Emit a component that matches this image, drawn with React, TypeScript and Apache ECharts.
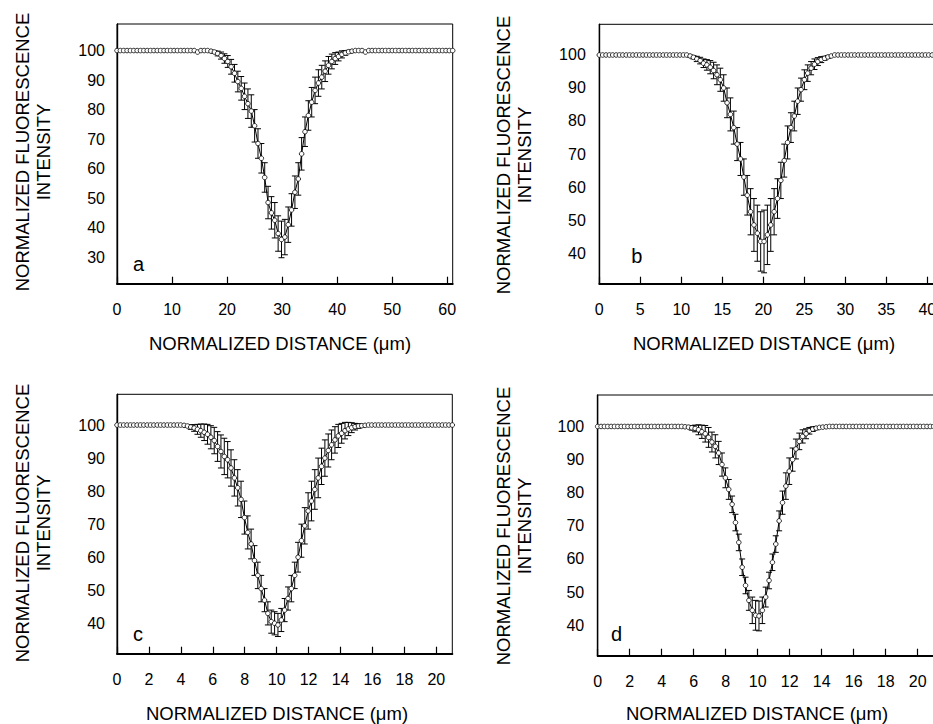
import React, { useEffect, useRef } from "react";
import * as echarts from "echarts";

// ---------- DATA ----------
// Sampling step of each profile along the normalized distance (μm)
const X_STEP_A = 0.61;
const X_STEP_B = 0.41;
const X_STEP_C = 0.21;
const X_STEP_D = 0.21;

// Mean normalized fluorescence intensity per sample
const Y_A = [
  100, 100, 100, 100, 100, 100, 100, 100, 100, 100,
  100, 100, 100, 100, 100, 100, 100, 100, 100, 100,
  100, 100, 100, 100, 99.5, 100, 100, 100, 99.8, 99.5,
  99, 98.3, 97.3, 96.3, 94.5, 92.3, 89.5, 87.2, 84.5, 82,
  79.5, 74.5, 68.5, 63.5, 57, 48.5, 45, 42.5, 38, 36,
  36.8, 41, 46, 52, 56.5, 65, 72.5, 78, 82.5, 86.5,
  89, 91, 93, 95, 96.3, 97.3, 98, 98.7, 99.2, 99.6,
  99.8, 100, 100, 100, 99.5, 100, 100, 100, 100, 100,
  100, 100, 100, 100, 100, 100, 100, 100, 100, 100,
  100, 100, 100, 100, 100, 100, 100, 100, 100, 100,
  100,
];
const Y_B = [
  100, 100, 100, 100, 100, 100, 100, 100, 100, 100,
  100, 100, 100, 100, 100, 100, 100, 100, 100, 100,
  100, 100, 100, 100, 100, 100, 100, 99.7, 99.3, 98.8,
  98.3, 97.5, 97, 96.3, 95.3, 94, 92.5, 90, 85.5, 82,
  78, 73, 68.5, 63, 57.5, 52.5, 48.5, 46, 43.5, 43.5,
  45.5, 48.5, 52.5, 56.5, 62, 68, 73.5, 78, 81.5, 86,
  89.5, 92.5, 94.5, 96, 97.2, 98, 98.6, 99, 99.4, 99.7,
  100, 100, 100, 100, 100, 100, 100, 100, 100, 100,
  100, 100, 100, 100, 100, 100, 100, 100, 100, 100,
  100, 100, 100, 100, 100, 100, 100, 100, 100, 100,
  100,
];
const Y_C = [
  100, 100, 100, 100, 100, 100, 100, 100, 100, 100,
  100, 100, 100, 100, 100, 100, 100, 100, 100, 100,
  99.9, 99.7, 99.4, 99.1, 98.7, 98.3, 97.8, 97.2, 96.3, 95.3,
  93.5, 92, 90.5, 89.5, 87, 84, 81, 77.5, 72, 67.5,
  64, 59, 54.5, 50.5, 47, 43, 40.5, 40, 39.5, 41,
  44, 47.5, 50.5, 54.5, 60, 65, 69.5, 74, 77, 80.5,
  84, 87.5, 90, 92.3, 94, 95.5, 96.7, 97.5, 98.3, 98.8,
  99.2, 99.5, 99.7, 99.8, 99.9, 100, 100, 100, 100, 100,
  100, 100, 100, 100, 100, 100, 100, 100, 100, 100,
  100, 100, 100, 100, 100, 100, 100, 100, 100, 100,
  100,
];
const Y_D = [
  100, 100, 100, 100, 100, 100, 100, 100, 100, 100,
  100, 100, 100, 100, 100, 100, 100, 100, 100, 100,
  100, 100, 100, 100, 100, 100, 99.9, 99.8, 99.6, 99.4,
  99, 98.4, 97.8, 96.7, 95.3, 94, 92, 88.5, 84.5, 81,
  76.5, 71, 65, 57.5, 52, 47.5, 44.5, 43, 42.8, 44.5,
  48.5, 53.5, 59, 64.5, 71.5, 77, 82, 86.5, 90, 93.2,
  95.5, 97, 97.8, 98.7, 99.2, 99.5, 99.7, 99.8, 99.9, 100,
  100, 100, 100, 100, 100, 100, 100, 100, 100, 100,
  100, 100, 100, 100, 100, 100, 100, 100, 100, 100,
  100, 100, 100, 100, 100, 100, 100, 100, 100, 100,
  100,
];

// Error bar half-lengths (±), starting at the given sample index
const ERR_A_START = 28;
const ERR_A = [
  0.3, 0.5, 0.8, 1.2, 1.6, 2, 2.5, 3, 3.5, 4, 4.5, 5, 5.5, 5.5, 5, 5, 5, 5.5, 5.5, 6,
  6, 6.2, 6, 6, 5.5, 5.5, 5.5, 5.5, 5, 5, 5, 4.5, 4.5, 4, 3.5, 3, 2.5, 2, 1.5, 1.2,
  0.8, 0.5, 0.3,
];
const ERR_B_START = 27;
const ERR_B = [
  0.3, 0.5, 0.8, 1, 1.3, 1.6, 2, 2.5, 3, 3.5, 4, 4.5, 5, 5, 5, 5, 5.5, 6, 7, 8,
  8.5, 9, 9.5, 9, 8, 7, 6, 5.5, 5, 5, 4.5, 4.5, 4, 3.5, 3, 2.5, 2, 1.6, 1.2, 0.9,
  0.6, 0.4, 0.2,
];
const ERR_C_START = 20;
const ERR_C = [
  0.2, 0.4, 0.7, 1, 1.5, 2, 2.5, 3, 3.5, 4, 4.5, 5, 5.5, 5.5, 5.5, 5.5, 5.5, 5.5, 5, 5,
  4.5, 4.5, 4, 4, 3.5, 3.5, 3.5, 3.5, 3.5, 3.5, 3.5, 3.5, 4, 4, 4.5, 5, 5.5, 5.5, 6, 6,
  6, 5.5, 5.5, 5, 4.5, 4, 3.5, 3, 2.5, 2, 1.5, 1, 0.7, 0.4, 0.2,
];
const ERR_D_START = 26;
const ERR_D = [
  0.2, 0.4, 0.7, 1, 1.5, 2, 2.5, 3, 3, 3.5, 3.5, 3.5, 3, 3, 2.5, 2.5, 2.5, 2.5, 2.5, 3,
  4, 4.5, 4.5, 4, 3, 2.5, 2.5, 2.5, 3, 3.5, 4, 4, 3.5, 3, 2.5, 2, 1.5, 1, 0.7, 0.5,
  0.3, 0.2, 0.1,
];

// Tick labels
const X_TICKS_A = [0, 10, 20, 30, 40, 50, 60];
const X_TICKS_B = [0, 5, 10, 15, 20, 25, 30, 35, 40];
const X_TICKS_CD = [0, 2, 4, 6, 8, 10, 12, 14, 16, 18, 20];
const Y_TICKS_A = [30, 40, 50, 60, 70, 80, 90, 100];
const Y_TICKS_BCD = [40, 50, 60, 70, 80, 90, 100];

const PANEL_LETTERS = ["a", "b", "c", "d"];
const Y_TITLE = "NORMALIZED FLUORESCENCE\nINTENSITY";
const X_TITLE = "NORMALIZED DISTANCE (\u03bcm)";

// ---------- LAYOUT / STYLE ----------
const FONT = '"Liberation Sans", Arial, Helvetica, sans-serif';

const PANELS = [
  {
    y: Y_A, step: X_STEP_A, err: ERR_A, errStart: ERR_A_START, xTicks: X_TICKS_A, yTicks: Y_TICKS_A,
    grid: { left: 117, top: 24, width: 335.7, height: 259.7 }, xMax: 61, yMin: 21, yMax: 109,
    yLabelMargin: 12, yTitle: [33, 152], xTitle: [280, 343], letter: [138.5, 264],
  },
  {
    y: Y_B, step: X_STEP_B, err: ERR_B, errStart: ERR_B_START, xTicks: X_TICKS_B, yTicks: Y_TICKS_BCD,
    grid: { left: 599.3, top: 24.3, width: 336.2, height: 259.4 }, xMax: 41, yMin: 30.7, yMax: 109.3,
    yLabelMargin: 13.5, yTitle: [514, 155], xTitle: [764, 343], letter: [636.8, 256],
  },
  {
    y: Y_C, step: X_STEP_C, err: ERR_C, errStart: ERR_C_START, xTicks: X_TICKS_CD, yTicks: Y_TICKS_BCD,
    grid: { left: 117, top: 394.3, width: 335.3, height: 259.4 }, xMax: 21, yMin: 30.8, yMax: 109.3,
    yLabelMargin: 12, yTitle: [33, 523], xTitle: [277, 713], letter: [138, 634],
  },
  {
    y: Y_D, step: X_STEP_D, err: ERR_D, errStart: ERR_D_START, xTicks: X_TICKS_CD, yTicks: Y_TICKS_BCD,
    grid: { left: 597.7, top: 395, width: 336, height: 260.7 }, xMax: 21, yMin: 30.8, yMax: 109.5,
    yLabelMargin: 13.5, yTitle: [514, 526], xTitle: [757, 713], letter: [616.5, 634],
  },
];

function buildOption() {
  const grids: any[] = [];
  const xAxes: any[] = [];
  const yAxes: any[] = [];
  const series: any[] = [];
  const graphics: any[] = [];

  PANELS.forEach((p, k) => {
    grids.push({
      ...p.grid,
      show: true,
      borderColor: "#000",
      borderWidth: 1,
      backgroundColor: "transparent",
      containLabel: false,
      outerBoundsMode: "none",
    });
    xAxes.push({
      type: "value",
      gridIndex: k,
      min: 0,
      max: p.xMax,
      splitLine: { show: false },
      axisLine: { show: true, onZero: false, lineStyle: { color: "#000", width: 2 } },
      axisTick: {
        show: true,
        inside: true,
        length: 7,
        customValues: p.xTicks,
        lineStyle: { color: "#000", width: 1.2 },
      },
      axisLabel: {
        show: true,
        customValues: p.xTicks,
        margin: 17.5,
        color: "#000",
        fontSize: 16,
        fontFamily: FONT,
      },
    });
    yAxes.push({
      type: "value",
      gridIndex: k,
      min: p.yMin,
      max: p.yMax,
      splitLine: { show: false },
      axisLine: { show: true, onZero: false, lineStyle: { color: "#000", width: 1.4 } },
      axisTick: { show: false },
      axisLabel: {
        show: true,
        customValues: p.yTicks,
        margin: p.yLabelMargin,
        color: "#000",
        fontSize: 16,
        fontFamily: FONT,
      },
    });

    const points = p.y.map((v, i) => [i * p.step, v]);
    const bars = p.err.map((e, j) => {
      const i = p.errStart + j;
      const x = i * p.step;
      const v = p.y[i];
      return [x, v - e, v + e];
    });

    series.push({
      type: "custom",
      xAxisIndex: k,
      yAxisIndex: k,
      z: 1,
      clip: false,
      silent: true,
      encode: { x: 0, y: [1, 2] },
      data: bars,
      renderItem: (params: any, api: any) => {
        const x = api.value(0);
        const lo = api.coord([x, api.value(1)]);
        const hi = api.coord([x, api.value(2)]);
        const hw = 3;
        const st = { stroke: "#000", lineWidth: 1 };
        return {
          type: "group",
          children: [
            { type: "line", shape: { x1: lo[0], y1: lo[1], x2: hi[0], y2: hi[1] }, style: st },
            { type: "line", shape: { x1: lo[0] - hw, y1: lo[1], x2: lo[0] + hw, y2: lo[1] }, style: st },
            { type: "line", shape: { x1: hi[0] - hw, y1: hi[1], x2: hi[0] + hw, y2: hi[1] }, style: st },
          ],
        };
      },
    });
    series.push({
      type: "line",
      xAxisIndex: k,
      yAxisIndex: k,
      z: 2,
      data: points,
      showAllSymbol: true,
      symbol: "circle",
      symbolSize: 4.6,
      silent: true,
      lineStyle: { color: "#000", width: 1 },
      itemStyle: { color: "#fff", borderColor: "#000", borderWidth: 0.8 },
    });

    graphics.push({
      type: "text",
      x: p.yTitle[0],
      y: p.yTitle[1],
      rotation: Math.PI / 2,
      style: {
        text: Y_TITLE,
        fill: "#000",
        fontSize: 18.5,
        fontFamily: FONT,
        lineHeight: 20.8,
        align: "center",
        verticalAlign: "middle",
        textAlign: "center",
        textVerticalAlign: "middle",
      },
    });
    graphics.push({
      type: "text",
      x: p.xTitle[0],
      y: p.xTitle[1],
      style: {
        text: X_TITLE,
        fill: "#000",
        fontSize: 18.5,
        fontFamily: FONT,
        align: "center",
        verticalAlign: "middle",
        textAlign: "center",
        textVerticalAlign: "middle",
      },
    });
    graphics.push({
      type: "text",
      x: p.letter[0],
      y: p.letter[1],
      style: {
        text: PANEL_LETTERS[k],
        fill: "#000",
        fontSize: 20,
        fontFamily: FONT,
        align: "center",
        verticalAlign: "middle",
        textAlign: "center",
        textVerticalAlign: "middle",
      },
    });
  });

  return {
    animation: false,
    backgroundColor: "#fff",
    grid: grids,
    xAxis: xAxes,
    yAxis: yAxes,
    series,
    graphic: graphics,
  };
}

export default function App() {
  const ref = useRef<HTMLDivElement>(null);
  useEffect(() => {
    if (!ref.current) return;
    const chart = echarts.init(ref.current, null, { renderer: "svg" });
    chart.setOption(buildOption() as any);
    return () => chart.dispose();
  }, []);
  return (
    <div
      style={{
        position: "fixed",
        left: 0,
        top: 0,
        width: 933,
        height: 724,
        overflow: "hidden",
        background: "#fff",
      }}
    >
      <div ref={ref} style={{ width: 940, height: 724 }} />
    </div>
  );
}
